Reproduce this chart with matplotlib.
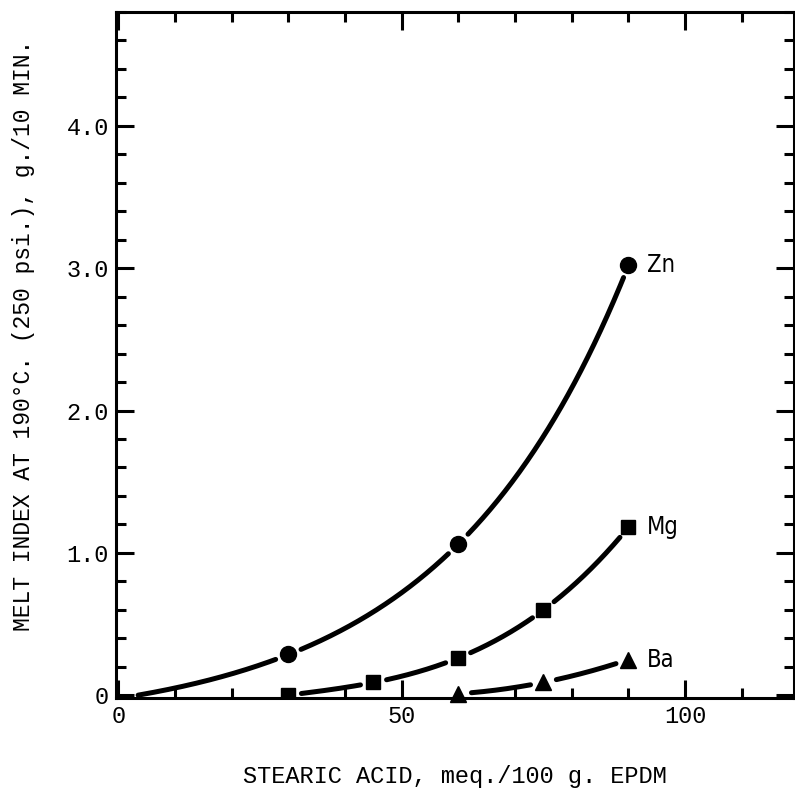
import numpy as np
import matplotlib
matplotlib.use("Agg")
import matplotlib.pyplot as plt
from matplotlib.ticker import MultipleLocator, FixedLocator, FixedFormatter

# ---- data ----
zn_x = [30, 60, 90]
zn_y = [0.29, 1.06, 3.02]
zn_curve_start = 3.5          # where the Zn curve leaves the x axis

mg_x = [30, 45, 60, 75, 90]
mg_y = [0.00, 0.09, 0.26, 0.60, 1.18]

ba_x = [60, 75, 90]
ba_y = [0.01, 0.09, 0.25]

series_labels = ["Zn", "Mg", "Ba"]
x_ticks = [0, 50, 100]
x_tick_labels = ["0", "50", "100"]
y_ticks = [0, 1, 2, 3, 4]
y_tick_labels = ["0", "1.0", "2.0", "3.0", "4.0"]
x_label = "STEARIC ACID, meq./100 g. EPDM"
y_label = "MELT INDEX AT 190°C. (250 psi.), g./10 MIN."

mono = ["Liberation Mono", "DejaVu Sans Mono"]
cond = ["DejaVu Sans"]

fig = plt.figure(figsize=(7.95, 7.89), dpi=100)
ax = fig.add_axes([116/795, 1-698/789, (794-116)/795, (698-12)/789])
ax.set_xlim(-0.4, 119.2)
ax.set_ylim(-0.02, 4.8)

for s in ax.spines.values():
    s.set_linewidth(2.2)

ax.xaxis.set_major_locator(FixedLocator(x_ticks))
ax.xaxis.set_major_formatter(FixedFormatter(x_tick_labels))
ax.xaxis.set_minor_locator(MultipleLocator(10))
ax.yaxis.set_major_locator(FixedLocator(y_ticks))
ax.yaxis.set_major_formatter(FixedFormatter(y_tick_labels))
ax.yaxis.set_minor_locator(MultipleLocator(0.2))
ax.tick_params(which="both", direction="in", top=True, right=True, width=2.2, color="black")
ax.tick_params(which="major", length=13, pad=5, labelsize=17)
ax.tick_params(which="minor", length=7)
for lab in ax.get_xticklabels() + ax.get_yticklabels():
    lab.set_family(mono)

ax.set_xlabel(x_label, family=mono, fontsize=17, labelpad=27)
ax.set_ylabel(y_label, family=mono, fontsize=16.6, va="center")
ax.yaxis.set_label_coords(-0.136, 0.529)

fig.canvas.draw()
trans = ax.transData

def mask_near_markers(xx, yy, marker_x, marker_y, gap_px):
    pts = trans.transform(np.column_stack([xx, yy]))
    mk = trans.transform(np.column_stack([marker_x, marker_y]))
    mask = np.zeros(len(xx), bool)
    for m in mk:
        mask |= np.hypot(pts[:, 0]-m[0], pts[:, 1]-m[1]) < gap_px
    return np.where(mask, np.nan, yy)

def exp_fit(xs, ys, x0):
    # y = A*(exp(k*(x-x0)) - 1), least squares over k grid
    xs = np.asarray(xs, float); ys = np.asarray(ys, float)
    best = None
    for k in np.linspace(0.001, 0.1, 2000):
        g = np.exp(k*(xs-x0)) - 1
        A = (g @ ys) / (g @ g)
        err = np.sum((A*g - ys)**2)
        if best is None or err < best[0]:
            best = (err, k, A)
    return best[1], best[2]

lw = 3.6
# Zn
k, A = exp_fit(zn_x, zn_y, zn_curve_start)
xx = np.linspace(zn_curve_start, zn_x[-1], 600)
yy = mask_near_markers(xx, A*(np.exp(k*(xx-zn_curve_start))-1), zn_x, zn_y, 13)
ax.plot(xx, yy, color="black", lw=lw, solid_capstyle="round")
ax.plot(zn_x, zn_y, "o", color="black", ms=11.5, ls="none")
# Mg
coef = np.polyfit(mg_x, mg_y, 3)
xx = np.linspace(mg_x[0], mg_x[-1], 600)
yy = mask_near_markers(xx, np.polyval(coef, xx), mg_x, mg_y, 13)
ax.plot(xx, yy, color="black", lw=lw, solid_capstyle="round")
ax.plot(mg_x, mg_y, "s", color="black", ms=10, ls="none")
# Ba
coef = np.polyfit(ba_x, ba_y, 2)
xx = np.linspace(ba_x[0], ba_x[-1], 600)
yy = mask_near_markers(xx, np.polyval(coef, xx), ba_x, ba_y, 13)
ax.plot(xx, yy, color="black", lw=lw, solid_capstyle="round")
ax.plot(ba_x, ba_y, "^", color="black", ms=11, ls="none", clip_on=False)

for lab, xs, ys in zip(series_labels, [zn_x, mg_x, ba_x], [zn_y, mg_y, ba_y]):
    ax.annotate(lab, (xs[-1], ys[-1]), xytext=(13, 0), textcoords="offset points",
                ha="left", va="center", fontsize=17, family=cond, fontstretch="condensed")

fig.savefig("out.png", dpi=100)
